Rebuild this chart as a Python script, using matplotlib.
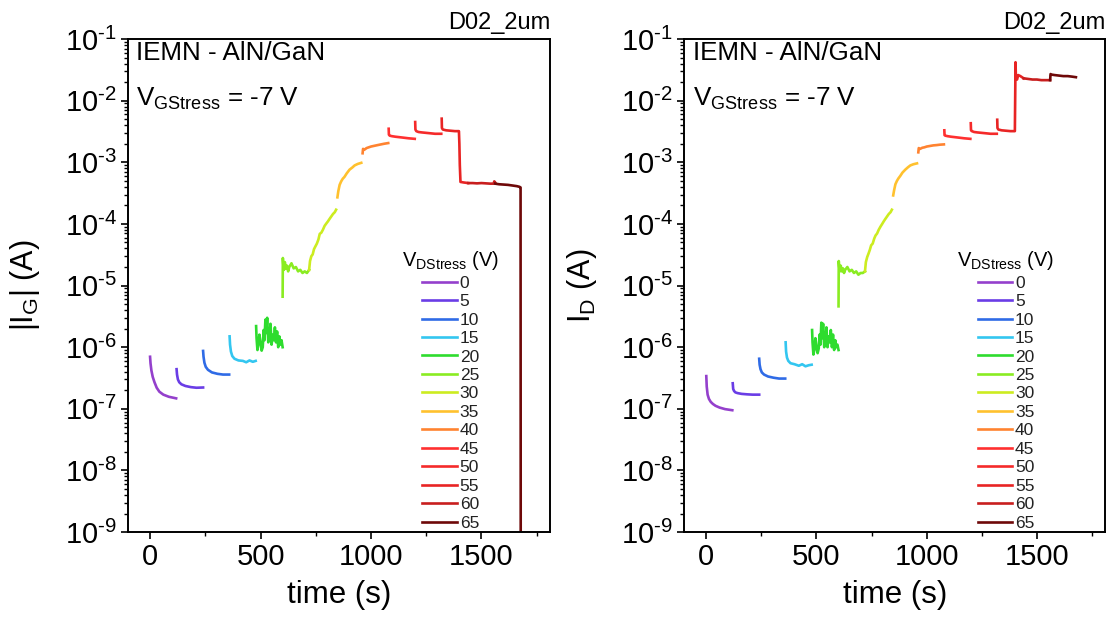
import matplotlib
matplotlib.use('Agg')
import matplotlib.pyplot as plt
from matplotlib.ticker import LogLocator, MultipleLocator, NullFormatter, FuncFormatter
import numpy as np

plt.rcParams['font.family'] = ['Liberation Sans', 'DejaVu Sans']
plt.rcParams['mathtext.fontset'] = 'custom'
plt.rcParams['mathtext.rm'] = 'Liberation Sans'
plt.rcParams['mathtext.it'] = 'Liberation Sans:italic'
plt.rcParams['axes.unicode_minus'] = False

# drain stress steps and their colours
stress_v = [0, 5, 10, 15, 20, 25, 30, 35, 40, 45, 50, 55, 60, 65]
colors = ['#9440cc', '#6a3de6', '#2f6be6', '#33c6f0', '#2edc2e', '#8aec22',
          '#ccec20', '#ffc12e', '#ff8330', '#ff3030', '#f52a2a', '#e82424',
          '#c81e1e', '#6e0808']

# time points (s) per stress step, gate current
t_ig = [
    [0, 2, 6, 12, 20, 30, 42, 60, 85, 118],
    [120, 122, 126, 132, 142, 160, 185, 210, 240],
    [240, 242, 246, 252, 262, 280, 305, 330, 358],
    [360, 362, 366, 372, 382, 400, 420, 435, 450, 465, 478],
    [480, 482, 486, 490, 495, 500, 505, 510, 514, 518, 522, 526, 530, 535,
     540, 545, 550, 555, 560, 565, 570, 575, 580, 585, 590, 595, 600],
    [600, 601, 603, 606, 610, 615, 620, 625, 630, 640, 650, 660, 670, 680,
     690, 700, 710, 720],
    [720, 724, 730, 736, 742, 748, 755, 762, 768, 775, 782, 790, 798, 805,
     812, 820, 828, 836, 842],
    [848, 852, 858, 865, 872, 880, 890, 903, 915, 926, 940, 956],
    [962, 964, 970, 980, 990, 1000, 1015, 1030, 1045, 1060, 1078],
    [1080, 1081, 1085, 1095, 1110, 1130, 1150, 1170, 1198],
    [1200, 1201, 1205, 1215, 1230, 1250, 1270, 1290, 1318],
    [1320, 1321, 1325, 1340, 1360, 1380, 1398, 1400, 1402, 1405, 1420, 1440],
    [1440, 1460, 1480, 1500, 1520, 1540, 1555, 1558, 1562],
    [1562, 1580, 1600, 1620, 1640, 1660, 1672, 1677, 1678],
]
ig = [
    [7e-7, 5.5e-7, 4.2e-7, 3.3e-7, 2.7e-7, 2.2e-7, 1.9e-7, 1.7e-7, 1.57e-7, 1.48e-7],
    [4.4e-7, 3.6e-7, 3.0e-7, 2.7e-7, 2.5e-7, 2.35e-7, 2.25e-7, 2.2e-7, 2.22e-7],
    [8.7e-7, 7e-7, 5.6e-7, 4.8e-7, 4.3e-7, 3.9e-7, 3.7e-7, 3.6e-7, 3.6e-7],
    [1.5e-6, 1.1e-6, 8.5e-7, 7.2e-7, 6.5e-7, 6.1e-7, 6.0e-7, 5.7e-7, 6.1e-7, 5.8e-7, 6.0e-7],
    [2.2e-6, 1.4e-6, 9e-7, 1.1e-6, 1.6e-6, 1.2e-6, 8.8e-7, 1.0e-6, 1.9e-6, 1.3e-6,
     2.8e-6, 1.7e-6, 3.0e-6, 1.2e-6, 1.4e-6, 2.4e-6, 1.1e-6, 1.6e-6, 1.3e-6, 2.1e-6,
     1.2e-6, 1.8e-6, 1.0e-6, 1.5e-6, 1.1e-6, 1.3e-6, 1.0e-6],
    [6.6e-6, 2.8e-5, 2.2e-5, 1.8e-5, 2.4e-5, 1.9e-5, 2.1e-5, 1.7e-5, 2.0e-5, 2.3e-5,
     1.9e-5, 2.0e-5, 1.7e-5, 1.8e-5, 1.6e-5, 1.7e-5, 1.6e-5, 1.8e-5],
    [1.8e-5, 2.5e-5, 3.0e-5, 3.2e-5, 3.9e-5, 4.3e-5, 4.8e-5, 5.6e-5, 6.9e-5, 7.2e-5,
     8.0e-5, 9.3e-5, 1.02e-4, 1.1e-4, 1.2e-4, 1.32e-4, 1.45e-4, 1.55e-4, 1.7e-4],
    [2.7e-4, 3.4e-4, 4.3e-4, 4.9e-4, 5.4e-4, 5.8e-4, 6.6e-4, 7.6e-4, 8.2e-4, 8.9e-4,
     9.4e-4, 9.8e-4],
    [1.4e-3, 1.65e-3, 1.6e-3, 1.7e-3, 1.75e-3, 1.8e-3, 1.85e-3, 1.9e-3, 1.95e-3,
     2.0e-3, 2.05e-3],
    [3.5e-3, 2.8e-3, 2.7e-3, 2.65e-3, 2.6e-3, 2.55e-3, 2.5e-3, 2.45e-3, 2.4e-3],
    [4.5e-3, 3.4e-3, 3.2e-3, 3.1e-3, 3.05e-3, 3.0e-3, 2.95e-3, 2.9e-3, 2.9e-3],
    [5.1e-3, 3.6e-3, 3.4e-3, 3.3e-3, 3.25e-3, 3.2e-3, 3.2e-3, 2.0e-3, 9e-4, 4.8e-4,
     4.7e-4, 4.6e-4],
    [4.6e-4, 4.6e-4, 4.55e-4, 4.6e-4, 4.55e-4, 4.5e-4, 4.5e-4, 4.9e-4, 4.7e-4],
    [4.5e-4, 4.4e-4, 4.35e-4, 4.3e-4, 4.2e-4, 4.1e-4, 4.0e-4, 3.9e-4, 1e-12],
]

# drain current
t_id = [
    [0, 2, 6, 12, 20, 30, 42, 60, 85, 118],
    [120, 122, 126, 132, 142, 160, 185, 210, 240],
    [240, 242, 246, 252, 262, 280, 305, 330, 358],
    [360, 362, 366, 372, 382, 400, 420, 435, 450, 465, 478],
    [480, 482, 486, 490, 495, 500, 505, 510, 514, 518, 522, 526, 530, 535,
     540, 545, 550, 555, 560, 565, 570, 575, 580, 585, 590, 595, 600],
    [600, 601, 603, 606, 610, 615, 620, 625, 630, 640, 650, 660, 670, 680,
     690, 700, 710, 720],
    [720, 724, 730, 736, 742, 748, 755, 762, 768, 775, 782, 790, 798, 805,
     812, 820, 828, 836, 842],
    [848, 852, 858, 865, 872, 880, 890, 903, 915, 926, 940, 956],
    [962, 964, 970, 980, 990, 1000, 1015, 1030, 1045, 1060, 1078],
    [1080, 1081, 1085, 1095, 1110, 1130, 1150, 1170, 1198],
    [1200, 1201, 1205, 1215, 1230, 1250, 1270, 1290, 1318],
    [1320, 1321, 1325, 1340, 1360, 1380, 1400, 1403, 1405, 1410, 1415, 1425, 1440],
    [1440, 1460, 1480, 1500, 1520, 1540, 1560],
    [1560, 1562, 1565, 1580, 1600, 1620, 1640, 1660, 1677],
]
i_d = [
    [3.4e-7, 2.3e-7, 1.7e-7, 1.45e-7, 1.3e-7, 1.2e-7, 1.12e-7, 1.05e-7, 9.9e-8, 9.5e-8],
    [2.6e-7, 2.1e-7, 1.95e-7, 1.85e-7, 1.8e-7, 1.75e-7, 1.72e-7, 1.7e-7, 1.7e-7],
    [6.5e-7, 5.2e-7, 4.4e-7, 3.9e-7, 3.6e-7, 3.35e-7, 3.2e-7, 3.1e-7, 3.1e-7],
    [1.2e-6, 8.5e-7, 6.8e-7, 6.0e-7, 5.5e-7, 5.3e-7, 5.0e-7, 5.3e-7, 4.9e-7, 5.1e-7, 5.2e-7],
    [1.9e-6, 1.2e-6, 7.6e-7, 9e-7, 1.4e-6, 1.0e-6, 8e-7, 9.5e-7, 1.6e-6, 1.1e-6,
     2.5e-6, 1.4e-6, 2.4e-6, 1.0e-6, 1.2e-6, 2.1e-6, 1.0e-6, 1.5e-6, 1.2e-6, 1.9e-6,
     1.0e-6, 1.6e-6, 9e-7, 1.3e-6, 1.0e-6, 1.1e-6, 9e-7],
    [4.6e-6, 2.5e-5, 2.0e-5, 1.7e-5, 2.1e-5, 1.7e-5, 1.9e-5, 1.6e-5, 1.8e-5, 2.0e-5,
     1.7e-5, 1.8e-5, 1.6e-5, 1.7e-5, 1.5e-5, 1.6e-5, 1.6e-5, 1.7e-5],
    [1.7e-5, 2.4e-5, 2.9e-5, 3.3e-5, 3.8e-5, 4.5e-5, 4.8e-5, 5.8e-5, 6.5e-5, 7.0e-5,
     8.0e-5, 9.0e-5, 1.0e-4, 1.1e-4, 1.2e-4, 1.32e-4, 1.45e-4, 1.55e-4, 1.7e-4],
    [2.9e-4, 3.5e-4, 4.4e-4, 5.0e-4, 5.5e-4, 6.0e-4, 6.8e-4, 7.6e-4, 8.3e-4, 8.9e-4,
     9.3e-4, 9.6e-4],
    [1.45e-3, 1.7e-3, 1.65e-3, 1.72e-3, 1.75e-3, 1.8e-3, 1.84e-3, 1.88e-3, 1.9e-3,
     1.93e-3, 1.95e-3],
    [3.3e-3, 2.75e-3, 2.7e-3, 2.65e-3, 2.6e-3, 2.55e-3, 2.5e-3, 2.45e-3, 2.4e-3],
    [4.3e-3, 3.3e-3, 3.2e-3, 3.1e-3, 3.05e-3, 3.0e-3, 2.95e-3, 2.9e-3, 2.9e-3],
    [4.9e-3, 3.6e-3, 3.4e-3, 3.3e-3, 3.25e-3, 3.2e-3, 3.2e-3, 4.2e-2, 2.2e-2, 2.2e-2,
     2.6e-2, 2.5e-2, 2.3e-2],
    [2.3e-2, 2.25e-2, 2.2e-2, 2.2e-2, 2.15e-2, 2.15e-2, 2.15e-2],
    [2.15e-2, 2.7e-2, 2.65e-2, 2.6e-2, 2.55e-2, 2.5e-2, 2.5e-2, 2.45e-2, 2.4e-2],
]


def decade_label(v, pos):
    e = int(round(np.log10(v)))
    sign = r'\text{-}' if e < 0 else ''
    return r'$\mathregular{10^{%s%d}}$' % (sign, abs(e))


def draw_panel(ax, times, values, ylabel):
    for t, v, c, s in zip(times, values, colors, stress_v):
        ax.plot(t, v, color=c, lw=1.9, label=str(s))

    ax.set_yscale('log')
    ax.set_ylim(1e-9, 1e-1)
    ax.set_xlim(-100, 1810)
    ax.yaxis.set_major_locator(LogLocator(base=10, numticks=20))
    ax.yaxis.set_major_formatter(FuncFormatter(decade_label))
    ax.yaxis.set_minor_locator(LogLocator(base=10, subs=range(2, 10), numticks=20))
    ax.yaxis.set_minor_formatter(NullFormatter())
    ax.xaxis.set_major_locator(MultipleLocator(500))
    ax.xaxis.set_minor_locator(MultipleLocator(250))

    ax.tick_params(which='major', direction='out', length=5, width=1.2, labelsize=21, pad=3)
    ax.tick_params(which='minor', direction='out', length=3, width=1.0)
    for sp in ax.spines.values():
        sp.set_linewidth(1.4)

    ax.set_xlabel('time (s)', fontsize=22.5, labelpad=6)
    ax.set_ylabel(ylabel, fontsize=22, labelpad=16)

    ax.text(0.02, 0.995, 'IEMN - AlN/GaN', transform=ax.transAxes,
            fontsize=18.7, va='top', ha='left')
    ax.text(0.02, 0.905, r'$\mathregular{V_{GStress}}$ = -7 V', transform=ax.transAxes,
            fontsize=18.7, va='top', ha='left')
    ax.text(1.0, 1.01, 'D02_2um', transform=ax.transAxes,
            fontsize=17, va='bottom', ha='right')

    ax.legend(title=r'$\mathregular{V_{DStress}}$ (V)', loc='lower right',
              bbox_to_anchor=(0.905, -0.018), frameon=False, fontsize=12.5,
              title_fontsize=14.5, handlelength=2.0, handletextpad=0.15,
              labelspacing=0.19, borderaxespad=0.2, labelcolor='#222222',
              alignment='center')


fig = plt.figure(figsize=(11.09, 6.29), dpi=100)
ax1 = fig.add_axes([0.1154, 0.154, 0.3805, 0.784])
ax2 = fig.add_axes([0.6170, 0.154, 0.3796, 0.784])

draw_panel(ax1, t_ig, ig, r'$\mathregular{|I_G|}$ (A)')
draw_panel(ax2, t_id, i_d, r'$\mathregular{I_D}$ (A)')

fig.savefig('out.png', dpi=100)
